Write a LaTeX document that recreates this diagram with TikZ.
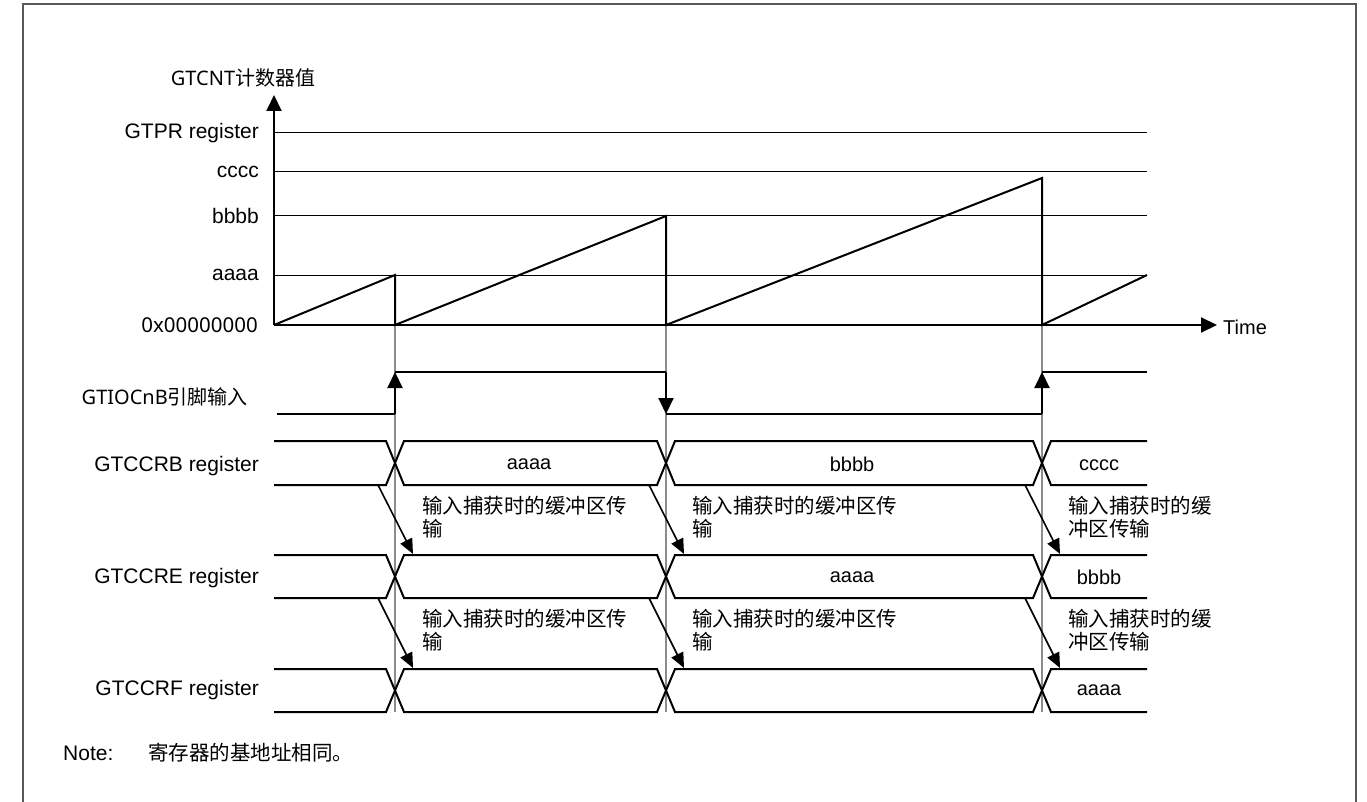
\documentclass[tikz,border=0pt]{standalone}
\usepackage{fontspec}
\setmainfont{Liberation Sans}
\newfontfamily\cjk{Noto Sans CJK SC}
\newfontfamily\ui{Noto Sans}
\usetikzlibrary{arrows.meta}
\newcommand\myBus[2]{%
  \draw[bus] (274,#1) -- (386,#1) -- (404,#2) -- (657,#2) -- (675,#1) -- (1033,#1) -- (1051,#2) -- (1147,#2);
  \draw[bus] (274,#2) -- (386,#2) -- (404,#1) -- (657,#1) -- (675,#2) -- (1033,#2) -- (1051,#1) -- (1147,#1);
}
\begin{document}
\begin{tikzpicture}[x=1pt,y=-1pt,
  grid/.style={line width=1pt, draw=black},
  heavy/.style={line width=2pt, draw=black, line join=miter},
  guide/.style={line width=1.2pt, draw=black!45},
  bus/.style={line width=2pt, draw=black, line join=miter},
  tip/.style={-{Triangle[length=16pt,width=15pt]}},
  stip/.style={-{Triangle[length=15pt,width=13pt]}},
  txt/.style={font=\fontsize{20}{22}\selectfont, inner sep=0pt},
  lbl/.style={font=\fontsize{21}{24}\selectfont, inner sep=0pt, anchor=east},
  xfer/.style={font=\cjk\fontsize{20.5}{23}\selectfont, inner sep=0pt, anchor=north west, align=left},
  border/.style={line width=2pt, draw=black!65}]
\useasboundingbox (0,0) rectangle (1367,802);
% frame
\draw[border] (23,802) -- (23,4) -- (1356,4) -- (1356,802);
% guides
\foreach \gx/\gn in {395/g1,666/g2,1042/g3}{
  \coordinate (\gn t) at (\gx,325);
  \coordinate (\gn b) at (\gx,712);
  \draw[guide] (\gn t) -- (\gn b);
}
% level labels and grid lines
\node[lbl] (lpr) at (259,133) {GTPR register};
\node[lbl] (lc) at (259,172) {cccc};
\node[lbl] (lb) at (259,216) {bbbb};
\node[lbl] (la) at (259,275) {aaaa};
\node[lbl, font=\ui\fontsize{20.5}{24}\selectfont] (lz) at (258,325) {0x00000000};
\foreach \yy/\nn in {133/pr,172/c,216/b,275/a}{
  \coordinate (\nn L) at (274,\yy);
  \coordinate (\nn R) at (1147,\yy);
  \draw[grid] (\nn L) -- (\nn R);
}
% axes
\coordinate (org) at (274,325);
\coordinate (ytip) at (274,95);
\coordinate (xtip) at (1217,325);
\draw[heavy, tip] (org) -- (ytip);
\draw[heavy, tip] (org) -- (xtip);
\node[font=\ui\fontsize{20}{22}\selectfont, inner sep=0pt] (ylab) at (243,78) {GTCNT{\cjk 计数器值}};
\node[txt, anchor=west] (time) at (1223,327) {Time};
% sawtooth
\draw[heavy] (274,325) -- (395,275) -- (395,325) -- (666,216) -- (666,325) -- (1042,178) -- (1042,325) -- (1147,275);
% GTIOCnB
\node[lbl, font=\ui\fontsize{20}{24}\selectfont] (lio) at (248,397) {GTIOCnB{\cjk 引脚输入}};
\coordinate (io0) at (277,414);
\coordinate (io1l) at (395,414); \coordinate (io1h) at (395,372);
\coordinate (io2h) at (666,372); \coordinate (io2l) at (666,414);
\coordinate (io3l) at (1042,414); \coordinate (io3h) at (1042,372);
\coordinate (io4) at (1147,372);
\draw[heavy] (io0) -- (io1l);
\draw[heavy, tip] (io1l) -- (io1h);
\draw[heavy] (io1h) -- (io2h);
\draw[heavy, tip] (io2h) -- (io2l);
\draw[heavy] (io2l) -- (io3l);
\draw[heavy, tip] (io3l) -- (io3h);
\draw[heavy] (io3h) -- (io4);
% buses
\myBus{441}{485}
\myBus{555}{598}
\myBus{669}{712}
\node[lbl] (lB) at (259,466) {GTCCRB register};
\node[lbl] (lE) at (259,578) {GTCCRE register};
\node[lbl] (lF) at (259,690) {GTCCRF register};
\node[txt] (b1) at (529,464) {aaaa};
\node[txt] (b2) at (852,464) {bbbb};
\node[txt] (b3) at (1099,465) {cccc};
\node[txt] (e2) at (852,577) {aaaa};
\node[txt] (e3) at (1099,577) {bbbb};
\node[txt] (f3) at (1099,690) {aaaa};
% transfer arrows
\foreach \gx/\k in {395/1,666/2,1042/3}{
  \coordinate (s\k) at (\gx-17,485);
  \coordinate (t\k) at (\gx+18,554);
  \draw[line width=1.6pt, stip] (s\k) -- (t\k);
  \coordinate (u\k) at (\gx-17,598);
  \coordinate (v\k) at (\gx+18,668);
  \draw[line width=1.6pt, stip] (u\k) -- (v\k);
}
\node[xfer] (x1) at (422,496) {输入捕获时的缓冲区传\\输};
\node[xfer] (x2) at (692,496) {输入捕获时的缓冲区传\\输};
\node[xfer] (x3) at (1068,496) {输入捕获时的缓\\冲区传输};
\node[xfer] (y1) at (422,609) {输入捕获时的缓冲区传\\输};
\node[xfer] (y2) at (692,609) {输入捕获时的缓冲区传\\输};
\node[xfer] (y3) at (1068,609) {输入捕获时的缓\\冲区传输};
% note
\node[lbl, anchor=west] (note) at (63,753) {Note:};
\node[anchor=west, inner sep=0pt, font=\cjk\fontsize{20.5}{22}\selectfont] (notet) at (148,753) {寄存器的基地址相同。};
\end{tikzpicture}
\end{document}
